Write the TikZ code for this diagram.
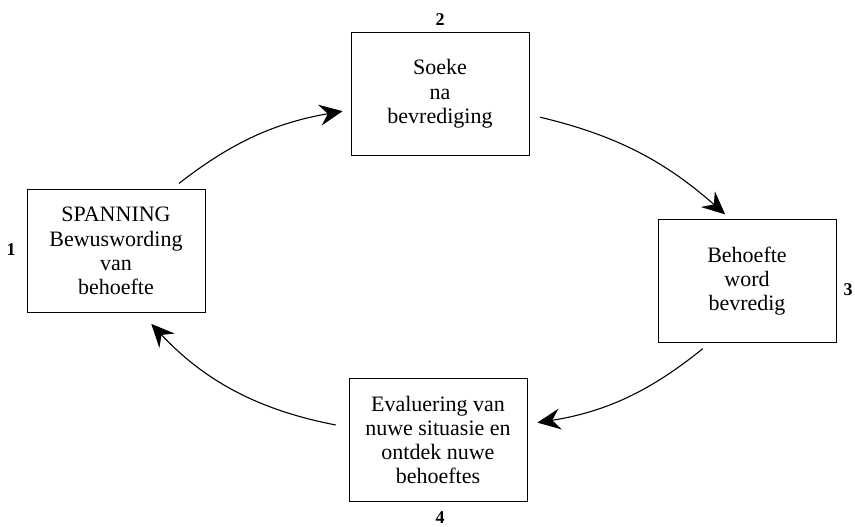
\documentclass[tikz,border=0pt]{standalone}
\usepackage{fontspec}
\setmainfont{Liberation Serif}
\usetikzlibrary{arrows.meta}
\begin{document}
\begin{tikzpicture}
  [x=1pt,y=1pt,
   every node/.style={draw,line width=1pt,minimum width=178pt,minimum height=123pt,
     inner sep=0pt,align=center,font=\fontsize{22}{24.3}\selectfont},
   num/.style={draw=none,minimum width=0pt,minimum height=0pt,
     font=\fontsize{18}{18}\selectfont\bfseries},
   arr/.style={line width=1.1pt,-{Stealth[length=23pt,width=21pt,inset=8pt]}}]
  \useasboundingbox (0,0) rectangle (855,527);
  \node (b1) at (116,276) {SPANNING\\Bewuswording\\van\\behoefte};
  \node (b2) at (440,433) {Soeke\\na\\bevrediging};
  \node (b3) at (747,246) {Behoefte\\word\\bevredig};
  \node (b4) at (438,87)  {Evaluering van\\nuwe situasie en\\ontdek nuwe\\behoeftes};
  \node[num] (n1) at (11,277)  {1};
  \node[num] (n2) at (440,507) {2};
  \node[num] (n3) at (848,237) {3};
  \node[num] (n4) at (440,9)   {4};

  \foreach \from/\a/\to/\b/\s/\e/\bend in {b1/48/b2/190/9/8/14,b2/347/b3/105/11/7/14,
   b3/239/b4/10/9/10/15,b4/172/b1/292/13/15/18}
    \draw[arr,shorten <=\s pt,shorten >=\e pt] (\from.\a) to[bend left=\bend] (\to.\b);
\end{tikzpicture}
\end{document}
